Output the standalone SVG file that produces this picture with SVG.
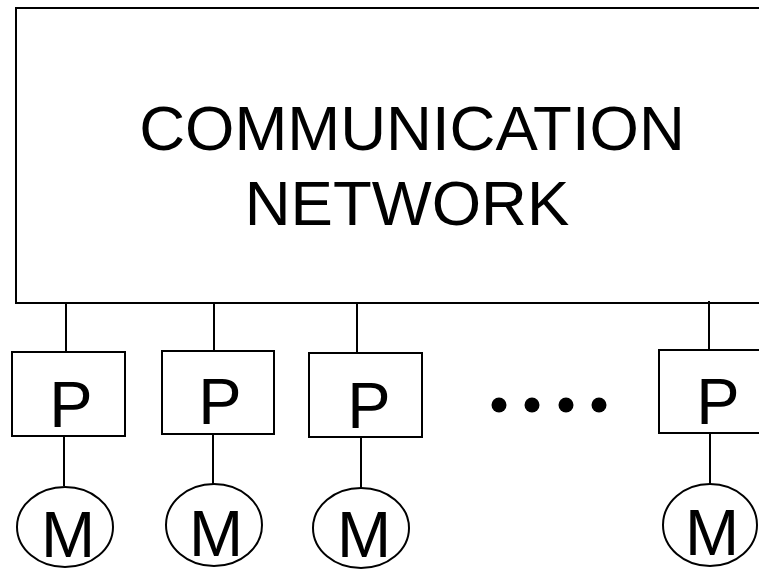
<svg xmlns="http://www.w3.org/2000/svg" width="759" height="570" viewBox="0 0 759 570">
<style>
.box{fill:#fff;stroke:#000;stroke-width:2}
.ln{stroke:#000;stroke-width:2;fill:none}
.t{font-family:"Liberation Sans",Arial,sans-serif;fill:#000;text-anchor:middle}
.big{font-size:63.5px}
.lbl{font-size:65px}
</style>
<rect width="759" height="570" fill="#fff"/>
<g id="network">
<rect class="box" x="16" y="8" width="760" height="295"/>
<text class="t big" x="412" y="150">COMMUNICATION</text>
<text class="t big" x="407" y="225">NETWORK</text>
</g>
<g id="connectors">
<line class="ln" x1="66" y1="303" x2="66" y2="352"/>
<line class="ln" x1="214" y1="303" x2="214" y2="351"/>
<line class="ln" x1="357" y1="303" x2="357" y2="353"/>
<line class="ln" x1="709" y1="301" x2="709" y2="350"/>
<line class="ln" x1="64" y1="436" x2="64" y2="486"/>
<line class="ln" x1="213" y1="434" x2="213" y2="484"/>
<line class="ln" x1="361" y1="437" x2="361" y2="488"/>
<line class="ln" x1="710" y1="433" x2="710" y2="485"/>
</g>
<g id="p1"><rect class="box" x="12" y="352" width="113" height="84"/><text class="t lbl" x="71" y="427">P</text></g>
<g id="p2"><rect class="box" x="162" y="351" width="112" height="83"/><text class="t lbl" x="220" y="424">P</text></g>
<g id="p3"><rect class="box" x="309" y="353" width="113" height="84"/><text class="t lbl" x="369" y="428">P</text></g>
<g id="p4"><rect class="box" x="659" y="350" width="120" height="83"/><text class="t lbl" x="718" y="424">P</text></g>
<g id="m1"><ellipse class="box" cx="65" cy="527" rx="48" ry="40"/><text class="t lbl" x="68" y="557">M</text></g>
<g id="m2"><ellipse class="box" cx="214" cy="525" rx="48" ry="41"/><text class="t lbl" x="216" y="556">M</text></g>
<g id="m3"><ellipse class="box" cx="361" cy="528" rx="48" ry="40"/><text class="t lbl" x="364" y="557">M</text></g>
<g id="m4"><ellipse class="box" cx="710" cy="525" rx="47" ry="41"/><text class="t lbl" x="712" y="555">M</text></g>
<g id="dots">
<circle cx="499" cy="405" r="7.5"/>
<circle cx="532" cy="405" r="7.5"/>
<circle cx="566" cy="405" r="7.5"/>
<circle cx="599" cy="405" r="7.5"/>
</g>
</svg>
